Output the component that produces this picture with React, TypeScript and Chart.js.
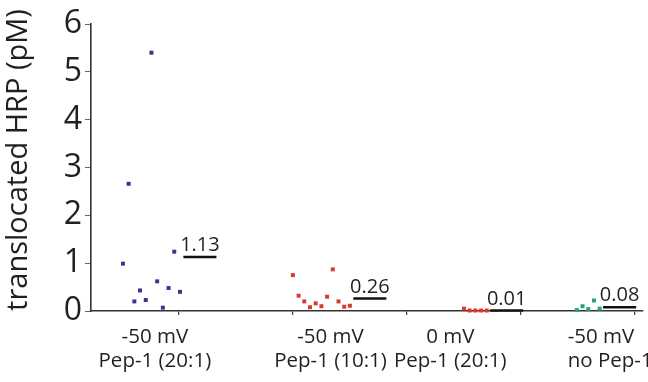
import React, { useEffect, useRef } from "react";
import { Chart, registerables } from "chart.js";

Chart.register(...registerables);

// ---- data ----
const categoryLine1 = ["-50 mV", "-50 mV", "0 mV", "-50 mV"];
const categoryLine2 = ["Pep-1 (20:1)", "Pep-1 (10:1)", "Pep-1 (20:1)", "no Pep-1"];
const bluePep20 = [0.99, 2.66, 0.2, 0.43, 0.23, 5.4, 0.62, 0.07, 0.48, 1.24, 0.4];
const redPep10 = [0.75, 0.32, 0.2, 0.08, 0.16, 0.1, 0.3, 0.87, 0.2, 0.09, 0.11];
const redZeroMv = [0.05, 0.01, 0.01, 0.01, 0.01];
const greenNoPep = [0.02, 0.1, 0.04, 0.22, 0.05];
const meanValues = [1.13, 0.26, 0.01, 0.08];
const meanLabels = ["1.13", "0.26", "0.01", "0.08"];
const yTickValues = [0, 1, 2, 3, 4, 5, 6];
const xTickValues = [1, 2, 3, 4, 5];
const yTitle = "translocated HRP (pM)";

// ---- layout (not data) ----
const seriesList = [bluePep20, redPep10, redZeroMv, greenNoPep];
const seriesColors = ["#34349a", "#d8392c", "#e8322a", "#22a874"];
const groupStart = [0.51, 2.0, 3.5, 4.49];
const jitterStep = 0.05;
const meanGap = 0.03;
const meanLen = 0.29;
const labelX = [0.79, 2.33, 3.38, 4.41];
const labelAlign: CanvasTextAlign[] = ["center", "center", "center", "left"];
const TEXT = "#231f20";
const FONT = "'Open Sans', 'DejaVu Sans', sans-serif";

export default function App() {
  const ref = useRef<HTMLCanvasElement | null>(null);

  useEffect(() => {
    document.body.style.margin = "0";
    const canvas = ref.current;
    if (!canvas) return;

    const datasets: any[] = [];
    seriesList.forEach((vals, g) => {
      datasets.push({
        type: "scatter",
        data: vals.map((v, i) => ({ x: groupStart[g] + i * jitterStep, y: v })),
        backgroundColor: seriesColors[g],
        borderWidth: 0,
        pointStyle: "rect",
        pointRadius: 2.8,
        clip: false,
      });
    });
    seriesList.forEach((vals, g) => {
      const x0 = groupStart[g] + (vals.length - 1) * jitterStep + meanGap;
      datasets.push({
        type: "line",
        data: [
          { x: x0, y: meanValues[g] },
          { x: x0 + meanLen, y: meanValues[g] },
        ],
        borderColor: "#111",
        borderWidth: 2.5,
        pointRadius: 0,
        clip: false,
      });
    });

    const labelPlugin = {
      id: "labels",
      afterDraw(chart: any) {
        const ctx = chart.ctx;
        const xs = chart.scales.x;
        const ys = chart.scales.y;
        ctx.save();
        ctx.fillStyle = TEXT;
        // y title
        ctx.save();
        ctx.translate(19, 160);
        ctx.rotate(-Math.PI / 2);
        ctx.font = `29px ${FONT}`;
        ctx.textAlign = "center";
        ctx.textBaseline = "middle";
        ctx.fillText(yTitle, 0, 0);
        ctx.restore();
        // mean labels
        ctx.font = `20px ${FONT}`;
        ctx.textAlign = "center";
        ctx.textBaseline = "alphabetic";
        seriesList.forEach((vals, g) => {
          const x0 = groupStart[g] + (vals.length - 1) * jitterStep + meanGap;
          const px = xs.getPixelForValue(x0 + meanLen / 2);
          const py = ys.getPixelForValue(meanValues[g]) - 6;
          ctx.fillText(meanLabels[g], px, py);
        });
        // category labels
        ctx.font = `20.5px ${FONT}`;
        categoryLine1.forEach((t, i) => {
          const px = xs.getPixelForValue(labelX[i]);
          ctx.textAlign = labelAlign[i];
          ctx.fillText(t, px, 343);
          ctx.fillText(categoryLine2[i], px, 367);
        });
        ctx.restore();
      },
    };

    const chart = new Chart(canvas, {
      type: "scatter",
      data: { datasets },
      options: {
        responsive: false,
        animation: false,
        devicePixelRatio: 1,
        layout: { padding: { top: 24, right: 5, left: 0, bottom: 0 } },
        plugins: { legend: { display: false }, tooltip: { enabled: false } },
        scales: {
          x: {
            type: "linear",
            min: 0.23,
            max: 5.07,
            afterBuildTicks: (s: any) => {
              s.ticks = xTickValues.map((v) => ({ value: v }));
            },
            afterFit: (s: any) => {
              s.height = 71;
            },
            ticks: { display: false },
            grid: {
              drawOnChartArea: false,
              drawTicks: true,
              tickLength: 4,
              color: "#444",
              lineWidth: 1.2,
            },
            border: { display: true, color: "#333", width: 1.6 },
          },
          y: {
            type: "linear",
            min: 0,
            max: 6,
            afterBuildTicks: (s: any) => {
              s.ticks = yTickValues.map((v) => ({ value: v }));
            },
            afterFit: (s: any) => {
              s.width = 91;
            },
            ticks: {
              color: TEXT,
              font: { family: FONT, size: 32 },
              padding: 3,
            },
            grid: {
              drawOnChartArea: false,
              drawTicks: true,
              tickLength: 6,
              color: "#666",
              lineWidth: 1,
            },
            border: { display: true, color: "#333", width: 1.6 },
          },
        },
      },
      plugins: [labelPlugin],
    });
    return () => chart.destroy();
  }, []);

  return <canvas ref={ref} width={648} height={382} style={{ display: "block", width: 648, height: 382 }} />;
}
